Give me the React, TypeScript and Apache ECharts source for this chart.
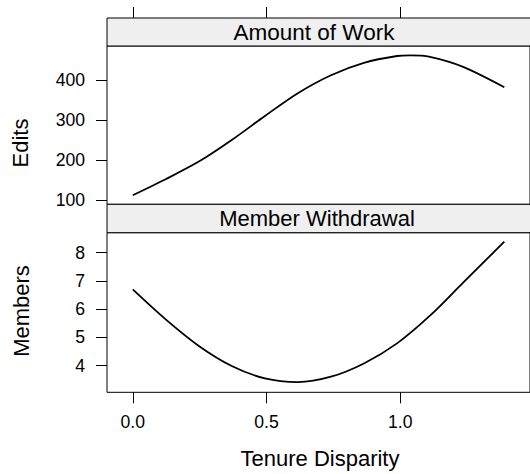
import React, { useEffect, useRef } from "react";
import * as echarts from "echarts";

// ---- data ----
const xTicks = [0, 0.5, 1.0];
const editsTicks = [100, 200, 300, 400];
const membersTicks = [4, 5, 6, 7, 8];
const panelTitles = ["Amount of Work", "Member Withdrawal"];
const yNames = ["Edits", "Members"];
const xName = "Tenure Disparity";

const xWork = [0, 0.123, 0.247, 0.37, 0.494, 0.617, 0.741, 0.864, 0.988, 1.037, 1.111, 1.235, 1.389];
const editsValues = [112, 152, 196, 250, 310, 367, 412, 443, 460, 461.5, 458, 433, 382];

const xMembers = [0, 0.123, 0.247, 0.37, 0.494, 0.617, 0.741, 0.864, 0.988, 1.111, 1.235, 1.389];
const membersValues = [6.7, 5.64, 4.7, 3.99, 3.55, 3.42, 3.61, 4.08, 4.79, 5.77, 6.94, 8.39];

const FONT = '"Liberation Sans", Arial, Helvetica, sans-serif';

export default function App() {
  const ref = useRef<HTMLDivElement>(null);

  useEffect(() => {
    if (!ref.current) return;
    const chart = echarts.init(ref.current, null, { renderer: "svg" });

    const L = 107;
    const W = 427;
    const stripH = 28;
    const strip1Top = 18;
    const plot1Top = 46;
    const plot1H = 158.3;
    const strip2Top = 204.3;
    const plot2Top = 232.7;
    const plot2H = 159.6;

    const xMin = -0.0963;
    const xMax = 1.485;

    const tickStyle = { show: true, length: 11, inside: false, lineStyle: { color: "#000", width: 1 } };
    const labelStyle = { color: "#000", fontSize: 17.6, fontFamily: FONT };
    const noLine = { show: false, onZero: false };

    const option: any = {
      animation: false,
      backgroundColor: "#fff",
      grid: [
        { left: L, top: plot1Top, width: W, height: plot1H, show: true, borderColor: "#000", borderWidth: 1, backgroundColor: "transparent" },
        { left: L, top: plot2Top, width: W, height: plot2H, show: true, borderColor: "#000", borderWidth: 1, backgroundColor: "transparent" },
      ],
      xAxis: [
        {
          type: "value", gridIndex: 0, min: xMin, max: xMax, position: "top", offset: plot1Top - strip1Top,
          axisLine: noLine,
          axisTick: { ...tickStyle, customValues: xTicks },
          axisLabel: { show: false },
          splitLine: { show: false },
        },
        {
          type: "value", gridIndex: 1, min: xMin, max: xMax, position: "bottom",
          axisLine: noLine,
          axisTick: { ...tickStyle, customValues: xTicks },
          axisLabel: { ...labelStyle, margin: 21, customValues: xTicks, formatter: (v: number) => v.toFixed(1) },
          splitLine: { show: false },
        },
      ],
      yAxis: [
        {
          type: "value", gridIndex: 0, min: 89.25, max: 485, position: "left",
          axisLine: noLine,
          axisTick: { ...tickStyle, customValues: editsTicks },
          axisLabel: { ...labelStyle, margin: 22, customValues: editsTicks },
          splitLine: { show: false },
        },
        {
          type: "value", gridIndex: 1, min: 3.058, max: 8.708, position: "left",
          axisLine: noLine,
          axisTick: { ...tickStyle, customValues: membersTicks },
          axisLabel: { ...labelStyle, margin: 22, customValues: membersTicks },
          splitLine: { show: false },
        },
      ],
      series: [
        {
          type: "line", xAxisIndex: 0, yAxisIndex: 0, showSymbol: false, smooth: 0.3,
          lineStyle: { color: "#000", width: 1.8 },
          data: xWork.map((x, i) => [x, editsValues[i]]),
        },
        {
          type: "line", xAxisIndex: 1, yAxisIndex: 1, showSymbol: false, smooth: 0.3,
          lineStyle: { color: "#000", width: 1.8 },
          data: xMembers.map((x, i) => [x, membersValues[i]]),
        },
      ],
      graphic: [
        {
          type: "rect", shape: { x: L, y: strip1Top, width: W, height: stripH },
          style: { fill: "#efefef", stroke: "#000", lineWidth: 1 },
        },
        {
          type: "text", x: 314, y: strip1Top + stripH / 2,
          style: { text: panelTitles[0], fill: "#000", font: `22.5px ${FONT}`, textAlign: "center", textVerticalAlign: "middle" },
        },
        {
          type: "rect", shape: { x: L, y: strip2Top, width: W, height: plot2Top - strip2Top },
          style: { fill: "#efefef", stroke: "#000", lineWidth: 1 },
        },
        {
          type: "text", x: 317, y: (strip2Top + plot2Top) / 2,
          style: { text: panelTitles[1], fill: "#000", font: `22px ${FONT}`, textAlign: "center", textVerticalAlign: "middle" },
        },
        {
          type: "text", x: 20.5, y: 143, rotation: Math.PI / 2,
          style: { text: yNames[0], fill: "#000", font: `22px ${FONT}`, textAlign: "center", textVerticalAlign: "middle" },
        },
        {
          type: "text", x: 21, y: 311, rotation: Math.PI / 2,
          style: { text: yNames[1], fill: "#000", font: `22px ${FONT}`, textAlign: "center", textVerticalAlign: "middle" },
        },
        {
          type: "text", x: 320, y: 458,
          style: { text: xName, fill: "#000", font: `22px ${FONT}`, textAlign: "center", textVerticalAlign: "middle" },
        },
      ],
    };

    chart.setOption(option);
    return () => chart.dispose();
  }, []);

  return (
    <div
      ref={ref}
      style={{ position: "fixed", left: 0, top: 0, width: 530, height: 474, background: "#fff" }}
    />
  );
}
